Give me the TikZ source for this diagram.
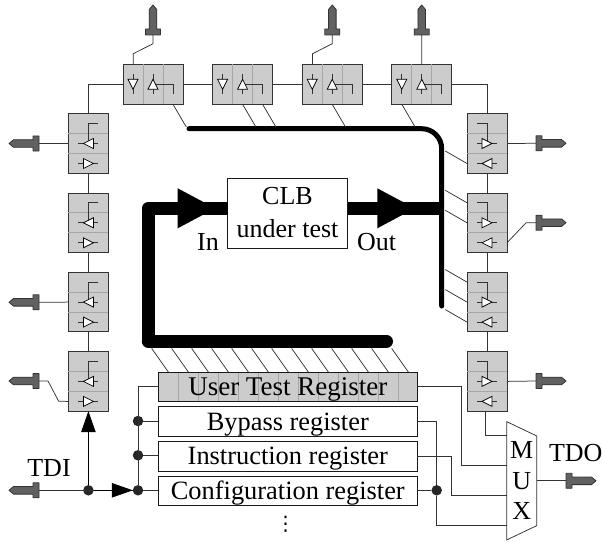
\documentclass[tikz,border=0pt]{standalone}
\usepackage{fontspec}
\setmainfont{Liberation Serif}
\newfontfamily\dotsfont{DejaVu Sans}
\usetikzlibrary{shapes.geometric, arrows.meta, positioning}

\begin{document}
\begin{tikzpicture}[
  x=1pt, y=1pt,
  node distance=19.8pt and 29.6pt,
  wire/.style={draw=black!80, line width=0.75pt},
  celldiv/.style={draw=black!35, line width=0.75pt},
  gate/.style={draw=black, fill=white, line width=0.75pt},
  vcell/.style={rectangle, draw=black!80, fill=black!20, line width=0.8pt,
                minimum width=40pt, minimum height=59.5pt, inner sep=0pt, outer sep=0pt},
  hcell/.style={vcell, minimum width=60pt, minimum height=40pt},
  regbox/.style={rectangle, draw=black!90, fill=white, line width=0.8pt,
                 minimum width=259pt, minimum height=29.5pt, inner sep=0pt, outer sep=0pt,
                 text height=17pt, text depth=0pt,
                 font=\fontsize{26.4}{30}\selectfont},
  txt/.style={font=\fontsize{26}{31}\selectfont, inner sep=0pt, align=center},
  dot/.style={circle, fill=black!85, minimum size=10.5pt, inner sep=0pt, outer sep=0pt},
  tinyhead/.style={wire, -{Triangle[length=21pt,width=14.5pt]}, black},
  bighead/.style={isosceles triangle, isosceles triangle stretches, fill=black, anchor=lower side,
                  minimum width=40pt, minimum height=37.5pt, inner sep=0pt, outer sep=0pt},
  thinbus/.style={draw=black, line width=5pt, line cap=round},
  fatbus/.style={draw=black, line width=13pt, line join=round, line cap=round},
  pinbody/.style={draw=black!80, fill=black!62, line width=0.8pt, line join=round},
  pics/iopin/.style={code={
    \draw[pinbody] (0,-7.5) -- (6,-7.5) -- (6,-3.8) -- (25.5,-3.8) -- (30,0)
                   -- (25.5,3.8) -- (6,3.8) -- (6,7.5) -- (0,7.5) -- cycle;
    \coordinate (-base) at (0,0);
  }},
  pics/cellgates/.style={code={
    \draw[celldiv] (-20,10) -- (20,10) (-20,-10) -- (20,-10);
    \draw[wire] (10,20) -- (0,20) -- (0,0);
    \draw[wire] (-10,0) -- (10,0) (-10,-20) -- (10,-20);
    \draw[gate] (-5,0) -- (5,5) -- (5,-5) -- cycle;
    \draw[gate] (5,-20) -- (-5,-25) -- (-5,-15) -- cycle;
  }}
]
  \useasboundingbox (0,0) rectangle (602,542);

  %% ── Boundary scan cells ──────────────────────────────────────────
  \node[hcell] (t1) at (153,457.7) {};
  \node[hcell, right=of t1] (t2) {};
  \node[hcell, right=of t2] (t3) {};
  \node[hcell, right=of t3] (t4) {};

  \node[vcell] (l1) at (88.4,398.5) {};
  \node[vcell, below=of l1] (l2) {};
  \node[vcell, below=of l2] (l3) {};
  \node[vcell, below=of l3] (l4) {};

  \node[vcell] (r1) at (487,398.5) {};
  \node[vcell, below=of r1] (r2) {};
  \node[vcell, below=of r2] (r3) {};
  \node[vcell, below=of r3] (r4) {};

  \foreach \c in {t1,t2,t3,t4} \pic[rotate=-90] at (\c) {cellgates};
  \foreach \c in {l1,l2,l3,l4} \pic at (\c) {cellgates};
  \foreach \c in {r1,r2,r3,r4} \pic[xscale=-1] at (\c) {cellgates};

  %% ── Pins ─────────────────────────────────────────────────────────
  \pic[rotate=90]  (pt1) at (153,507)   {iopin};
  \pic[rotate=90]  (pt3) at (332.3,507) {iopin};
  \pic[rotate=90]  (pt4) at (421.7,507) {iopin};
  \pic[rotate=180] (pl1) at (39,398.5)  {iopin};
  \pic[rotate=180] (pl3) at (39,239.7)  {iopin};
  \pic[rotate=180] (pl4) at (39,161)    {iopin};
  \pic[rotate=180] (tdi) at (39,51.7)   {iopin};
  \pic (pr1) at (536,398.7) {iopin};
  \pic (pr2) at (536,319.3) {iopin};
  \pic (pr4) at (536,161)   {iopin};
  \pic (tdo) at (566,61.2)  {iopin};

  %% ── Registers and MUX ────────────────────────────────────────────
  \node[regbox, fill=black!20, font=\fontsize{27}{30}\selectfont, path picture={
      \foreach \i in {1,...,12}
        \draw[celldiv] ([xshift={20pt*\i}]path picture bounding box.north west)
                    -- ([xshift={20pt*\i}]path picture bounding box.south west);
    }] (utr) at (287.8,155.3) {User Test Register};
  \node[regbox, below=5.3pt of utr] (byp) {Bypass register};
  \node[regbox, below=5.3pt of byp] (ins) {Instruction register};
  \node[regbox, below=5.3pt of ins] (cfg) {Configuration register};
  \node[txt, font=\dotsfont\fontsize{20}{24}\selectfont] (more) at (285.7,18) {⋮};

  \node[txt, font=\fontsize{26}{30.5}\selectfont, minimum width=30pt, minimum height=118.3pt, outer sep=0pt] (mux) at (521.7,61.2) {M\\U\\X};
  \draw[wire] (mux.north west) -- ([yshift=-14.3pt]mux.north east)
           -- ([yshift=14.3pt]mux.south east) -- (mux.south west) -- cycle;

  %% ── CLB and its buses ────────────────────────────────────────────
  \draw[thinbus, rounded corners=20pt] (189,413.3) -- (441.7,413.3) -- (441.7,236);
  \coordinate (fatcorner) at (148.3,333.7);
  \coordinate (fatend) at (386.5,200.7);
  \node[rectangle, draw=black!90, fill=white, line width=0.8pt, minimum width=120pt,
        minimum height=70pt, inner sep=0pt, outer sep=0pt, txt,
        font=\fontsize{26}{33}\selectfont] (clb) at (287.5,329) {CLB\\under test};
  \draw[fatbus, line cap=butt] (clb.west |- fatcorner) -- (fatcorner) -- (fatcorner |- fatend);
  \draw[fatbus] (fatcorner |- fatend) -- (fatend);
  \draw[draw=black, line width=13pt] (clb.east |- fatcorner) -- (444,333.7);
  \node[bighead] (hin)  at (177.7,333.7) {};
  \node[bighead] (hout) at (377.3,333.7) {};
  \node[txt, anchor=base] (lin)  at (208,291.3) {In};
  \node[txt, anchor=base] (lout) at (376.5,291.3) {Out};
  \node[txt, anchor=base] (ltdi) at (49,65.3) {TDI};
  \node[txt, anchor=base] (ltdo) at (575.8,80.3) {TDO};

  %% ── Scan chain ───────────────────────────────────────────────────
  \draw[wire] (t1.west) -| (l1.north);
  \draw[wire] (t1) -- (t2);
  \draw[wire] (t2) -- (t3);
  \draw[wire] (t3) -- (t4);
  \draw[wire] (t4.east) -| (r1.north);
  \draw[wire] (l1) -- (l2);
  \draw[wire] (l2) -- (l3);
  \draw[wire] (l3) -- (l4);
  \draw[wire] (r1) -- (r2);
  \draw[wire] (r2) -- (r3);
  \draw[wire] (r3) -- (r4);

  %% ── Pin wires ────────────────────────────────────────────────────
  \draw[wire] (pt1-base) -- ++(0,-8.7) -- ++(-19.7,-10) -- ([xshift=-19.7pt]t1.north);
  \draw[wire] (pt3-base) -- ++(0,-8.7) -- ++(-19.7,-10) -- ([xshift=-19.7pt]t3.north);
  \draw[wire] (pt4-base) -- (t4.north);
  \draw[wire] (pl1-base) -- (l1.west);
  \draw[wire] (pl3-base) -- (l3.west);
  \draw[wire] (pl4-base) -- ++(9,0) -- ++(10.7,-20.3) -- ([yshift=-20pt]l4.west);
  \draw[wire] (pr1-base) -- (r1.east);
  \draw[wire] (pr4-base) -- (r4.east);
  \draw[wire] ([yshift=-20pt]r2.east) -- ++(19,20) -- (pr2-base);

  %% ── Taps to the buses ────────────────────────────────────────────
  \foreach \c/\dx in {t1/20,t2/0,t2/20,t3/0,t4/-20}
    \draw[wire] ([xshift=\dx pt]\c.south) -- ++(13.3,-22.7);
  \foreach \c/\dy in {r1/-20,r2/20,r2/0,r3/20,r3/0,r3/-20}
    \draw[wire] ([yshift=\dy pt]\c.west) -- ++(-21.7,12.5);
  \foreach \i in {0,...,12}
    \draw[wire] ([xshift={10pt+20pt*\i}]utr.north west) -- ++(-16.6,23.5);

  %% ── TDI side ─────────────────────────────────────────────────────
  \node[dot] (jtdi) at (88.4,51.7) {};
  \node[dot] (jcfg) at (138,51.7) {};
  \node[dot] (jins) at (138,86.7) {};
  \node[dot] (jbyp) at (138,121) {};
  \draw[wire] (tdi-base) -- (jcfg);
  \draw[tinyhead] (jtdi) -- (jcfg);
  \draw[tinyhead] (jtdi) -- (l4.south);
  \draw[wire] (utr.west) -| (jcfg);
  \draw[wire] (jbyp) -- (jbyp -| byp.west);
  \draw[wire] (jins) -- (jins -| ins.west);
  \draw[wire] (jcfg) -- (jcfg -| cfg.west);

  %% ── TDO side ─────────────────────────────────────────────────────
  \node[dot] (jout) at (436.7,51.7) {};
  \draw[wire] (cfg.east |- jout) -- (jout);
  \draw[wire] (byp.east) -| (jout);
  \draw[wire] (jout) |- ([yshift=-45pt]mux.west);
  \draw[wire] (utr.east) -- ++(44.4,0) |- ([yshift=15pt]mux.west);
  \draw[wire] (ins.east) -- ++(34.4,0) |- ([yshift=-15pt]mux.west);
  \draw[wire] ([xshift=-1.7pt]r4.south) |- ([yshift=45pt]mux.west);
  \draw[wire] (mux.east) -- (tdo-base);
\end{tikzpicture}
\end{document}
